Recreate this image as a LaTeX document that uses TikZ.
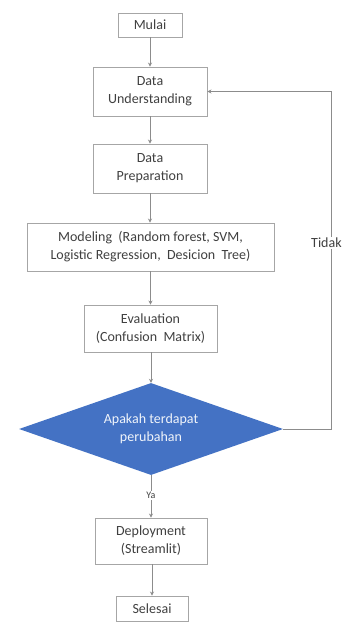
\documentclass[tikz,border=0pt]{standalone}
\usepackage{fontspec}
\setmainfont{Carlito}
\usetikzlibrary{shapes.geometric,arrows.meta}
\definecolor{boxline}{HTML}{A6A6A6}
\definecolor{arrline}{HTML}{8C8C8C}
\definecolor{txt}{HTML}{404040}
\definecolor{dblue}{HTML}{4472C4}
\begin{document}
\begin{tikzpicture}[x=1pt,y=-1pt,
  procbox/.style={draw=boxline, line width=0.9pt, fill=white, rectangle, inner sep=0pt,
    align=center, text=txt, font=\fontsize{14}{18}\selectfont},
  decbox/.style={diamond, fill=dblue, draw=none, inner sep=0pt, aspect=2.87,
    minimum width=264pt, minimum height=92pt, align=center, text=white!92!dblue,
    font=\fontsize{14}{18.5}\selectfont},
  flow/.style={draw=arrline, line width=0.8pt, -{Stealth[length=4pt,width=4pt]}},
  lbl/.style={fill=white, inner sep=1pt, text=txt, font=\fontsize{14}{16}\selectfont}]
\useasboundingbox[fill=white] (0,0) rectangle (341,623);

\node[procbox, minimum width=64pt, minimum height=24pt] (mulai) at (150,25) {Mulai};
\node[procbox, minimum width=114pt, minimum height=49pt] (du) at (150,91.5) {Data\\Understanding};
\node[procbox, minimum width=114pt, minimum height=49pt] (dp) at (150,168.5) {Data\\Preparation};
\node[procbox, minimum width=247pt, minimum height=48pt] (mod) at (150.5,247) {Modeling \ (Random forest, SVM,\\Logistic Regression, \ Desicion \ Tree)};
\node[procbox, minimum width=133pt, minimum height=47pt] (eval) at (150.5,328.5) {Evaluation\\(Confusion \ Matrix)};
\node[decbox] (dec) at (151,429) {Apakah terdapat\\perubahan};
\node[procbox, minimum width=112pt, minimum height=46pt] (dep) at (151,541) {Deployment\\(Streamlit)};
\node[procbox, minimum width=72pt, minimum height=25pt] (sel) at (152,608.5) {Selesai};

\coordinate (c1) at (331,429);
\coordinate (c2) at (331,91.5);

\draw[flow] (mulai) -- (du);
\draw[flow] (du) -- (dp);
\draw[flow] (dp.south) -- (dp.south |- mod.north);
\draw[flow] (mod.south -| eval.north) -- (eval.north);
\draw[flow] (eval.south -| dec.north) -- (dec.north);
\draw[flow] (dec.south) -- (dec.south |- dep.north) node[pos=0.48, lbl, font=\fontsize{10}{12}\selectfont] (ya) {Ya};
\draw[flow] (dep.south -| sel.north) -- (sel.north);
\draw[flow] (dec.east) -- (c1) -- (c2) -- (du.east);
\node[lbl, anchor=west] (tidak) at (310,243) {Tidak};
\end{tikzpicture}
\end{document}
